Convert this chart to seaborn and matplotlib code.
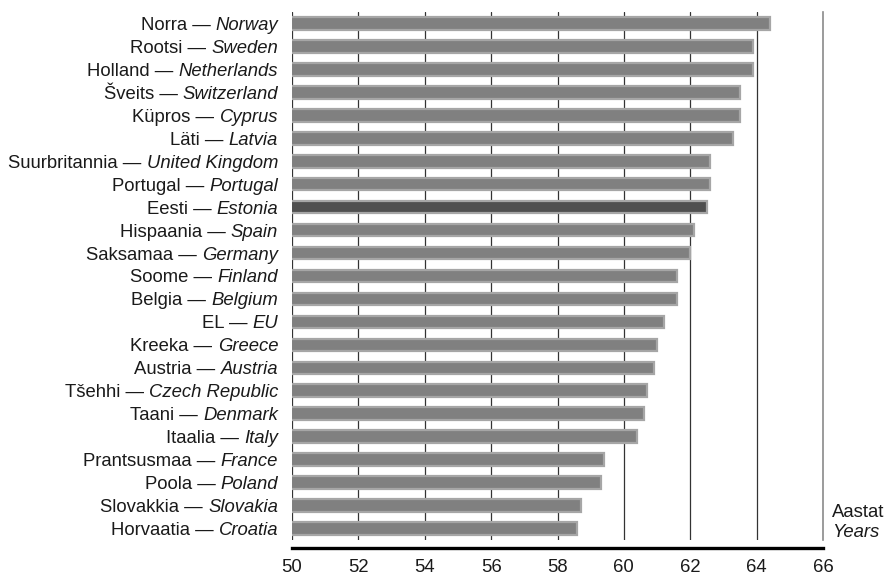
import matplotlib
matplotlib.use("Agg")
import matplotlib.pyplot as plt
import matplotlib.transforms as mtrans
import seaborn as sns
import pandas as pd

# ---- data ----
names_et = ["Norra", "Rootsi", "Holland", "Šveits", "Küpros", "Läti",
            "Suurbritannia", "Portugal", "Eesti", "Hispaania", "Saksamaa",
            "Soome", "Belgia", "EL", "Kreeka", "Austria", "Tšehhi", "Taani",
            "Itaalia", "Prantsusmaa", "Poola", "Slovakkia", "Horvaatia"]
names_en = ["Norway", "Sweden", "Netherlands", "Switzerland", "Cyprus", "Latvia",
            "United Kingdom", "Portugal", "Estonia", "Spain", "Germany",
            "Finland", "Belgium", "EU", "Greece", "Austria", "Czech Republic",
            "Denmark", "Italy", "France", "Poland", "Slovakia", "Croatia"]
values = [64.4, 63.9, 63.9, 63.5, 63.5, 63.3, 62.6, 62.6, 62.5, 62.1, 62.0,
          61.6, 61.6, 61.2, 61.0, 60.9, 60.7, 60.6, 60.4, 59.4, 59.3, 58.7, 58.6]
x_ticks = [50, 52, 54, 56, 58, 60, 62, 64, 66]
highlight = "Estonia"
unit_et = "Aastat"
unit_en = "Years"

sns.set_style("white")
plt.rcParams["font.family"] = ["Liberation Sans", "DejaVu Sans"]

TXT = "#1a1a1a"
FS = 13.3

df = pd.DataFrame({"country": names_en, "value": values})
palette = {c: ("#4f4f4f" if c == highlight else "#808080") for c in names_en}

fig = plt.figure(figsize=(8.85, 5.75), dpi=100)
ax = fig.add_axes([292 / 885, 1 - 540 / 575, (823 - 292) / 885, (540 - 12) / 575])

sns.barplot(data=df, x="value", y="country", hue="country", palette=palette,
            legend=False, orient="h", width=0.55, ax=ax, saturation=1,
            edgecolor="#a6a6a6", linewidth=1.6, zorder=3)

ax.set_xlim(50, 66)
ax.set_ylim(len(names_en) - 0.5, -0.5)
ax.set_xticks(x_ticks)
ax.set_xticklabels([str(t) for t in x_ticks])
ax.set_xlabel("")
ax.set_ylabel("")
ax.set_yticks([])

# grid lines
for t in x_ticks[:-1]:
    ax.axvline(t, color="#333333", lw=0.9, zorder=1)
ax.set_axisbelow(True)

for s in ["top", "left"]:
    ax.spines[s].set_visible(False)
ax.spines["right"].set_color("#8a8a8a")
ax.spines["right"].set_linewidth(1.2)
ax.spines["bottom"].set_color("black")
ax.spines["bottom"].set_linewidth(2.4)
ax.spines["bottom"].set_position(("outward", 5.8))
ax.tick_params(axis="x", direction="out", length=3.6, width=1, color="black",
               pad=4, labelsize=FS, labelcolor=TXT)

# y labels: "Estonian — English(italic)"
base = mtrans.offset_copy(ax.get_yaxis_transform(), fig=fig, x=-10, y=0, units="points")
for i, (et, en) in enumerate(zip(names_et, names_en)):
    it = ax.text(0, i, en, transform=base, ha="right", va="center_baseline",
                 fontsize=FS, fontstyle="italic", color=TXT)
    ax.annotate(et + " —", xy=(0, 0), xycoords=it, xytext=(-3.7, 0),
                textcoords="offset points", ha="right", va="bottom",
                fontsize=FS, color=TXT, annotation_clip=False)

fig.text(832 / 885, 1 - 517 / 575, unit_et, fontsize=FS, ha="left", va="baseline",
         color=TXT)
fig.text(832 / 885, 1 - 537 / 575, unit_en, fontsize=FS, ha="left", va="baseline",
         fontstyle="italic", color=TXT)

fig.savefig("out.png", dpi=100)
